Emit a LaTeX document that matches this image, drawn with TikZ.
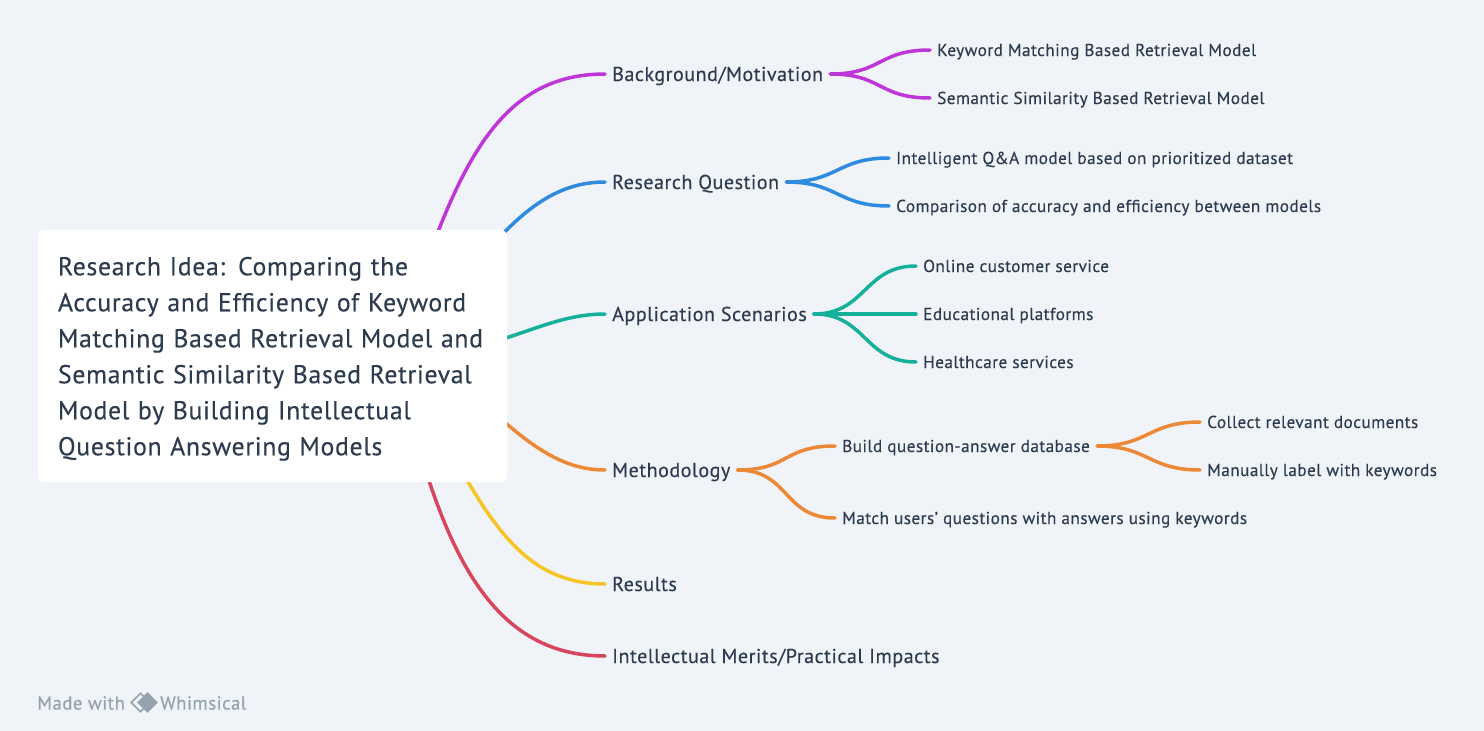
\documentclass[tikz,border=0pt]{standalone}
\usepackage{fontspec}
\setmainfont[LetterSpace=2.5, BoldFont={PT Sans}, BoldFeatures={FakeBold=0.25}]{PT Sans}
\usetikzlibrary{shapes.geometric, backgrounds}
\definecolor{pagebg}{HTML}{F0F4F8}
\definecolor{ink}{HTML}{2D3B4E}
\definecolor{faint}{HTML}{94A3AE}
\definecolor{cmagenta}{HTML}{BF36D8}
\definecolor{cblue}{HTML}{2E8BE0}
\definecolor{cteal}{HTML}{14B09A}
\definecolor{corange}{HTML}{ED8936}
\definecolor{cyellow}{HTML}{F6C427}
\definecolor{cred}{HTML}{D8465E}
\tikzstyle{rootbox} = [rectangle, rounded corners=6pt,
minimum width=469pt,
minimum height=252pt,
inner xsep=20pt,
text width=429pt,
fill=white,
text=ink,
align=left,
font=\bfseries\fontsize{25.8}{36}\selectfont]
\tikzstyle{topic} = [anchor=west, inner xsep=7pt, inner ysep=2pt, text height=14pt, text depth=0pt, text=ink, font=\bfseries\fontsize{20.1}{24}\selectfont]
\tikzstyle{leaf} = [anchor=west, inner xsep=7pt, inner ysep=2pt, text height=12pt, text depth=0pt, text=ink, font=\bfseries\fontsize{17.25}{21}\selectfont]
\tikzstyle{brand} = [anchor=west, inner sep=0pt, text=faint, font=\bfseries\fontsize{18.8}{23}\selectfont]
\tikzstyle{arrow} = [line width=3.5pt, line cap=round]
\begin{document}
\begin{tikzpicture}[x=1pt, y=-1pt]
        \useasboundingbox (0,0) rectangle (1484,731);
        \node (root) [rootbox] at (272.5,356) {\rule{0pt}{24pt}Research Idea: Comparing the\\Accuracy and Efficiency of Keyword\\Matching Based Retrieval Model and\\Semantic Similarity Based Retrieval\\Model by Building Intellectual\\Question Answering Models};
        \coordinate (hub) at (395,356);
        \node (bg) [topic] at (605,74) {Background/Motivation};
        \node (kw) [leaf] at (930,50) {Keyword Matching Based Retrieval Model};
        \node (sem) [leaf] at (930,98) {Semantic Similarity Based Retrieval Model};
        \node (rq) [topic] at (605,182) {Research Question};
        \node (qa) [leaf] at (889,158) {Intelligent Q\&A model based on prioritized dataset};
        \node (cmp) [leaf] at (889,206) {Comparison of accuracy and efficiency between models};
        \node (app) [topic] at (605,314) {Application Scenarios};
        \node (cs) [leaf] at (916,266) {Online customer service};
        \node (edu) [leaf] at (916,314) {Educational platforms};
        \node (hc) [leaf] at (916,362) {Healthcare services};
        \node (meth) [topic] at (605,470) {Methodology};
        \node (build) [leaf] at (835,446) {Build question-answer database};
        \node (match) [leaf] at (835,518) {Match users' questions with answers using keywords};
        \node (coll) [leaf] at (1200,422) {Collect relevant documents};
        \node (lab) [leaf] at (1200,470) {Manually label with keywords};
        \node (res) [topic] at (605,584) {Results};
        \node (merit) [topic] at (605,656) {Intellectual Merits/Practical Impacts};
        \node (made) [brand] at (37,703) {Made with};
        \node (logoa) [diamond, aspect=1, draw=faint, line width=1.6pt, inner sep=0pt, minimum size=19pt] at (140.5,702.5) {};
        \node (logob) [diamond, aspect=1, fill=faint, inner sep=0pt, minimum size=21pt] at (147.5,702.5) {};
        \node (whim) [brand] at (160,703) {Whimsical};
        \begin{scope}[on background layer]
        \fill [pagebg] (0,0) rectangle (1484,731);
        \draw [arrow, cmagenta] (hub) .. controls (452,180) and (490,74) .. (bg.west);
        \draw [arrow, cblue] (hub) .. controls (480,270) and (520,182) .. (rq.west);
        \draw [arrow, cteal] (hub) .. controls (500,356) and (540,314) .. (app.west);
        \draw [arrow, corange] (hub) .. controls (480,370) and (520,470) .. (meth.west);
        \draw [arrow, cyellow] (hub) .. controls (474,480) and (500,584) .. (res.west);
        \draw [arrow, cred] (hub) .. controls (436,530) and (480,656) .. (merit.west);
        \draw [arrow, cmagenta] (bg.east) .. controls +(52,0) and +(-52,0) .. (kw.west);
        \draw [arrow, cmagenta] (bg.east) .. controls +(52,0) and +(-52,0) .. (sem.west);
        \draw [arrow, cblue] (rq.east) .. controls +(52,0) and +(-52,0) .. (qa.west);
        \draw [arrow, cblue] (rq.east) .. controls +(52,0) and +(-52,0) .. (cmp.west);
        \draw [arrow, cteal] (app.east) .. controls +(52,0) and +(-52,0) .. (cs.west);
        \draw [arrow, cteal] (app.east) -- (edu.west);
        \draw [arrow, cteal] (app.east) .. controls +(52,0) and +(-52,0) .. (hc.west);
        \draw [arrow, corange] (meth.east) .. controls +(52,0) and +(-52,0) .. (build.west);
        \draw [arrow, corange] (meth.east) .. controls +(52,0) and +(-52,0) .. (match.west);
        \draw [arrow, corange] (build.east) .. controls +(52,0) and +(-52,0) .. (coll.west);
        \draw [arrow, corange] (build.east) .. controls +(52,0) and +(-52,0) .. (lab.west);
        \end{scope}
    \end{tikzpicture}
\end{document}
